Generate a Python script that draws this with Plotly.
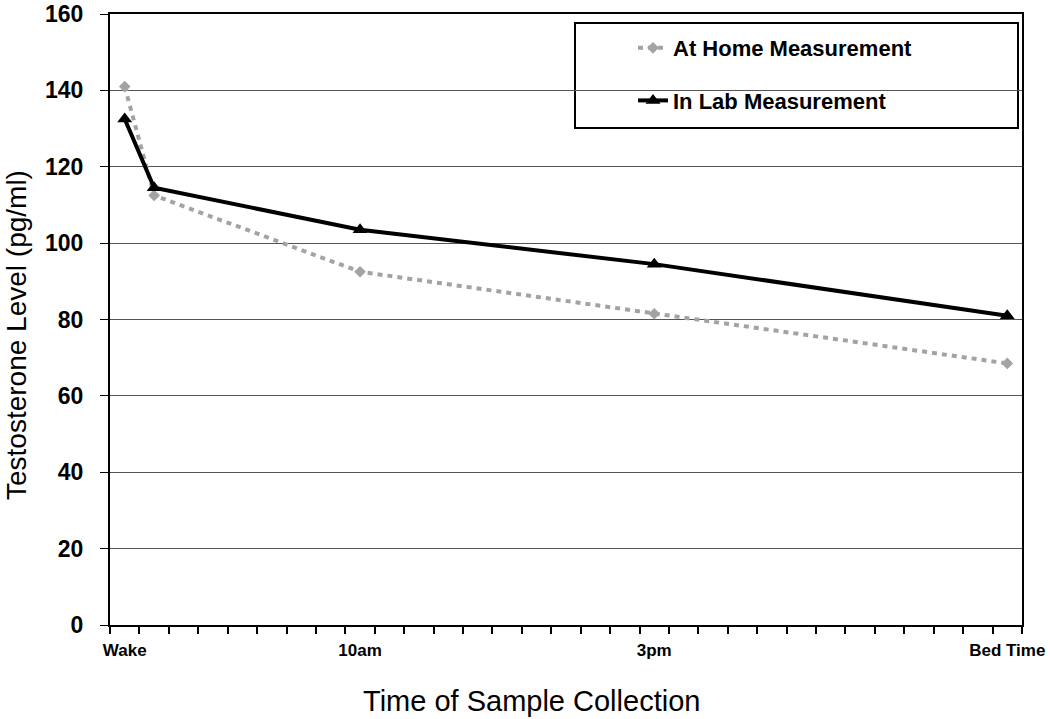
import plotly.graph_objects as go

# --- data ---
time_labels = ["Wake", "", "10am", "3pm", "Bed Time"]
time_slots = [0, 1, 8, 18, 30]          # category slot index on the 31-slot time axis
n_slots = 31
home_values = [141, 112.5, 92.5, 81.5, 68.5]
lab_values = [132.5, 114.5, 103.5, 94.5, 81]
y_ticks = [0, 20, 40, 60, 80, 100, 120, 140, 160]

FONT = "Liberation Sans, Arial, sans-serif"

fig = go.Figure()
fig.add_trace(go.Scatter(
    x=time_slots, y=home_values, name="At Home Measurement",
    mode="lines+markers",
    line=dict(color="#a3a3a3", width=4, dash="5px,5px"),
    marker=dict(symbol="diamond", size=9, color="#a3a3a3"),
    legendgroup="a",
))
fig.add_trace(go.Scatter(
    x=time_slots, y=lab_values, name="In Lab Measurement",
    mode="lines+markers",
    line=dict(color="black", width=4),
    marker=dict(symbol="triangle-up", size=13, color="black"),
    legendgroup="b",
))

L, R, T, B = 110, 28, 14, 94
W, H = 1050, 719
pw, ph = W - L - R, H - T - B

def px_x(p):
    return (p - L) / pw

def px_y(p):
    return (H - B - p) / ph

fig.update_layout(
    width=W, height=H,
    margin=dict(l=L, r=R, t=T, b=B, autoexpand=False),
    paper_bgcolor="white", plot_bgcolor="white",
    font=dict(family=FONT, color="black"),
    showlegend=True,
    legend=dict(
        x=px_x(633), y=px_y(27), xanchor="left", yanchor="top",
        bgcolor="rgba(0,0,0,0)", borderwidth=0,
        font=dict(family=FONT, size=22, color="black", weight="bold"),
        tracegroupgap=21, traceorder="grouped",
    ),
    shapes=[dict(type="rect", xref="paper", yref="paper",
                 x0=px_x(575), x1=px_x(1018), y0=px_y(128), y1=px_y(23),
                 line=dict(color="black", width=2), fillcolor="white", layer="below")],
    annotations=[
        dict(text="Time of Sample Collection", xref="paper", yref="paper",
             x=px_x(531), y=px_y(701), xanchor="center", yanchor="middle", showarrow=False,
             font=dict(family=FONT, size=29, color="black")),
        dict(text="Testosterone Level (pg/ml)", xref="paper", yref="paper",
             x=px_x(16), y=px_y(335), xanchor="center", yanchor="middle", showarrow=False,
             textangle=-90, font=dict(family=FONT, size=28, color="black")),
    ],
    xaxis=dict(
        range=[-0.5, n_slots - 0.5], automargin=False,
        tickmode="array", tickvals=[s for s, t in zip(time_slots, time_labels) if t],
        ticktext=[t for t in time_labels if t],
        ticks="", showgrid=False, zeroline=False, ticklabelstandoff=9,
        ticklabeloverflow="allow",
        tickfont=dict(family=FONT, size=17, color="black", weight="bold"),
        showline=True, linecolor="black", linewidth=2, mirror=True,
        minor=dict(tickmode="array", tickvals=[i - 0.5 for i in range(n_slots + 1)],
                   ticks="outside", ticklen=7, tickcolor="black", tickwidth=1.5, showgrid=False),
    ),
    yaxis=dict(
        range=[0, 160], tickmode="array", tickvals=y_ticks, automargin=False,
        ticks="outside", ticklen=8, tickcolor="black", ticklabelstandoff=12,
        ticklabeloverflow="allow",
        showgrid=True, gridcolor="#555555", gridwidth=1, zeroline=False,
        tickfont=dict(family=FONT, size=23, color="black", weight="bold"),
        showline=True, linecolor="black", linewidth=2, mirror=True,
    ),
)

fig.write_html("out.html", config={"displayModeBar": False},
               post_script="document.body.style.margin='0';")
